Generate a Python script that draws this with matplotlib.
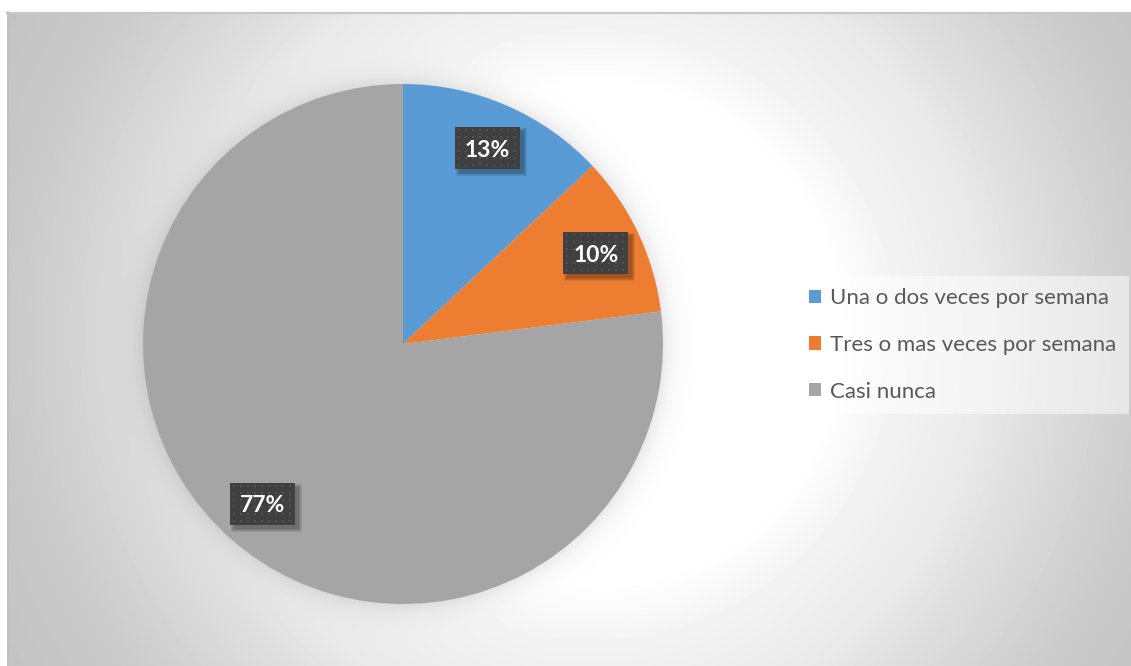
import numpy as np
import matplotlib
matplotlib.use("Agg")
import matplotlib.pyplot as plt
from matplotlib.patches import Rectangle

# Survey answers and their shares (percent)
categories = ["Una o dos veces por semana", "Tres o mas veces por semana", "Casi nunca"]
shares = [13, 10, 77]
colors = ["#5B9BD5", "#ED7D31", "#A5A5A5"]

W, H = 1131, 666
plt.rcParams["font.family"] = ["Lato", "DejaVu Sans"]

fig = plt.figure(figsize=(W / 100, H / 100), dpi=100)
fig.patch.set_facecolor("white")

# ---- chart-area background: radial gradient plus a soft shadow under the pie
bg = fig.add_axes([0, 0, 1, 1], zorder=0)
bg.set_xlim(0, W)
bg.set_ylim(H, 0)
bg.axis("off")

x0, y0 = 7, 12
pie_cx, pie_cy, pie_r = 403, 344, 260
xs = np.arange(x0, W) + 0.5
ys = np.arange(y0, H) + 0.5
X, Y = np.meshgrid(xs, ys)
gcx, gcy = 590, 335
r = np.hypot(X - gcx, Y - gcy)
v = np.interp(r, [0, 250, 310, 400, 450, 500, 550, 600, 700],
              [255, 255, 243, 233, 222, 214, 205, 199, 194])
rp = np.hypot(X - pie_cx, Y - pie_cy) - pie_r
shade = np.exp(-np.clip(rp, 0, None) / 11.0)
v = v * (1 - 0.09 * shade)
bg.imshow(v, cmap="gray", vmin=0, vmax=255, extent=(x0, W, H, y0),
          origin="upper", interpolation="bilinear", aspect="auto")
bg.plot([x0, W], [y0 + 0.5, y0 + 0.5], color="#c8c8c8", lw=1.6)
bg.plot([x0 + 0.5, x0 + 0.5], [y0, H], color="#c0c0c0", lw=1.2)

# ---- pie
pax = fig.add_axes([(pie_cx - pie_r) / W, (H - pie_cy - pie_r) / H,
                    2 * pie_r / W, 2 * pie_r / H], zorder=1)
wedges, _ = pax.pie(shares, colors=colors, startangle=90, counterclock=False,
                    radius=1, wedgeprops=dict(linewidth=0))
pax.set_xlim(-1, 1)
pax.set_ylim(-1, 1)
pax.axis("off")

# ---- data labels: dark dotted boxes with drop shadow
ov = fig.add_axes([0, 0, 1, 1], zorder=2)
ov.set_xlim(0, W)
ov.set_ylim(0, H)
ov.axis("off")
ov.patch.set_alpha(0)

bw, bh = 65, 42
for w, val in zip(wedges, shares):
    mid = np.deg2rad((w.theta1 + w.theta2) / 2)
    px, py = pax.transData.transform((0.82 * np.cos(mid), 0.82 * np.sin(mid)))
    # soft shadow, offset down-right
    for k in range(4):
        ov.add_patch(Rectangle((px - bw / 2 + 4 - k, py - bh / 2 - 4 - k),
                               bw + 2 * k, bh + 2 * k, fc="black", ec="none",
                               alpha=0.09, zorder=3))
    ov.add_patch(Rectangle((px - bw / 2, py - bh / 2), bw, bh,
                           fc="#404040", ec="none", zorder=4))
    gx = np.arange(px - bw / 2 + 4, px + bw / 2 - 1, 7)
    gy = np.arange(py - bh / 2 + 4, py + bh / 2 - 1, 7)
    GX, GY = np.meshgrid(gx, gy)
    ov.scatter(GX.ravel(), GY.ravel(), s=2.4, marker="s", c="#525252",
               linewidths=0, zorder=5)
    ov.text(px, py - 2, f"{val}%", ha="center", va="center", color="white",
            fontsize=16.5, fontweight="bold", zorder=6)

# ---- legend
leg = fig.legend(wedges, categories, loc="upper left",
                 bbox_to_anchor=(797 / W, 1 - 276 / H), frameon=True,
                 fontsize=16, handlelength=0.55, handleheight=0.55,
                 handletextpad=0.4, labelspacing=1.2, borderpad=0.55,
                 borderaxespad=0, fancybox=False, facecolor="white",
                 framealpha=0.5, edgecolor="none")
for t in leg.get_texts():
    t.set_color("#595959")
leg.set_zorder(10)

fig.savefig("out.png", dpi=100, facecolor="white")
